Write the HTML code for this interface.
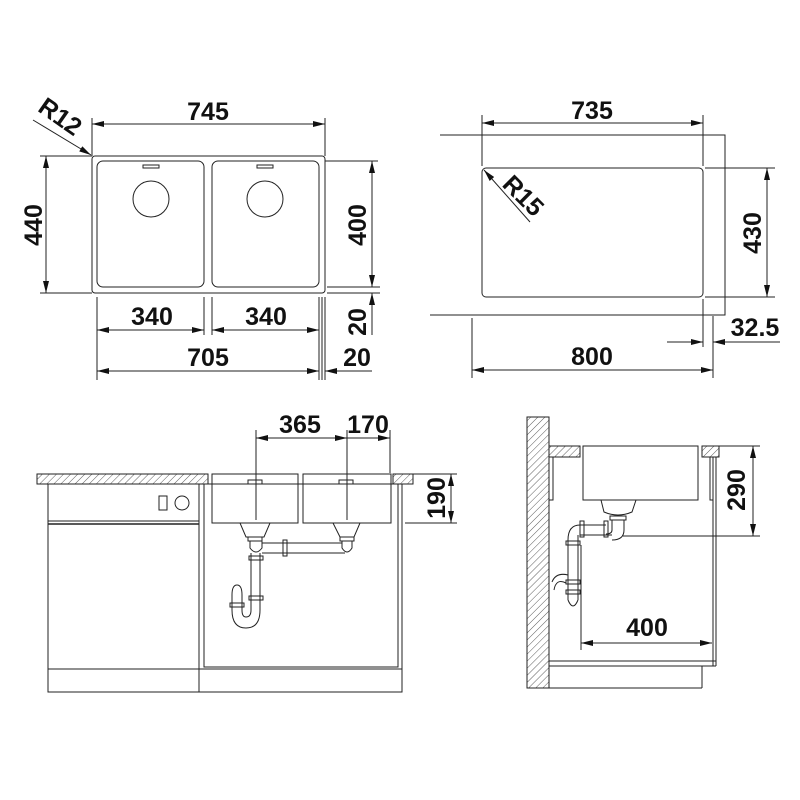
<!DOCTYPE html>
<html><head><meta charset="utf-8"><style>
html,body{margin:0;padding:0;background:#fff}
svg{display:block}
text{font-family:"Liberation Sans",sans-serif;font-weight:bold;font-size:25px;fill:#111;text-anchor:middle;dominant-baseline:central}
</style></head><body>
<svg width="800" height="800" viewBox="0 0 800 800" xmlns="http://www.w3.org/2000/svg">
<defs>
<marker id="a" viewBox="0 0 12 6" refX="12" refY="3" markerWidth="12" markerHeight="6" markerUnits="userSpaceOnUse" orient="auto-start-reverse"><path d="M0,0 L12,3 L0,6 Z" fill="#111"/></marker>
<pattern id="h" width="5" height="5" patternUnits="userSpaceOnUse" patternTransform="rotate(45)"><line x1="0" y1="0" x2="0" y2="5" stroke="#333" stroke-width="0.8"/></pattern>
</defs>
<g fill="none" stroke="#222" stroke-width="1">
<!-- TOP LEFT -->
<rect x="92" y="156" width="233" height="137" rx="3"/>
<rect x="97" y="161" width="107" height="126" rx="6"/>
<rect x="212" y="161" width="107" height="126" rx="6"/>
<circle cx="151" cy="199" r="18"/><circle cx="265" cy="199" r="18"/>
<rect x="143" y="165" width="16" height="3"/><rect x="257" y="165" width="16" height="3"/>
<line x1="92" y1="124" x2="325" y2="124" marker-start="url(#a)" marker-end="url(#a)"/>
<line x1="92" y1="118" x2="92" y2="156"/><line x1="325" y1="118" x2="325" y2="156"/>
<line x1="33" y1="120" x2="91" y2="155" marker-end="url(#a)"/>
<line x1="40" y1="156" x2="92" y2="156"/><line x1="40" y1="293" x2="92" y2="293"/>
<line x1="46" y1="156" x2="46" y2="293" marker-start="url(#a)" marker-end="url(#a)"/>
<line x1="325" y1="161" x2="378" y2="161"/><line x1="327" y1="287" x2="380" y2="287"/><line x1="327" y1="293" x2="380" y2="293"/>
<line x1="372" y1="161" x2="372" y2="287" marker-start="url(#a)" marker-end="url(#a)"/>
<line x1="372" y1="293" x2="372" y2="335" marker-start="url(#a)"/>
<line x1="97" y1="297" x2="97" y2="380"/><line x1="204" y1="297" x2="204" y2="335"/><line x1="212" y1="297" x2="212" y2="335"/>
<line x1="319" y1="297" x2="319" y2="380"/><line x1="322" y1="297" x2="322" y2="380"/><line x1="325" y1="297" x2="325" y2="380"/>
<line x1="97" y1="330" x2="204" y2="330" marker-start="url(#a)" marker-end="url(#a)"/>
<line x1="212" y1="330" x2="319" y2="330" marker-start="url(#a)" marker-end="url(#a)"/>
<line x1="97" y1="371" x2="319" y2="371" marker-start="url(#a)" marker-end="url(#a)"/>
<line x1="372" y1="371" x2="325" y2="371" marker-end="url(#a)"/>
<!-- TOP RIGHT -->
<polyline points="440,135 725,135 725,315 430,315"/>
<rect x="482" y="168" width="221" height="129" rx="4"/>
<line x1="482" y1="115" x2="482" y2="166"/><line x1="703" y1="115" x2="703" y2="166"/>
<line x1="482" y1="123" x2="703" y2="123" marker-start="url(#a)" marker-end="url(#a)"/>
<line x1="530" y1="222" x2="484" y2="170" marker-end="url(#a)"/>
<line x1="705" y1="168" x2="775" y2="168"/><line x1="705" y1="297" x2="775" y2="297"/>
<line x1="767" y1="168" x2="767" y2="297" marker-start="url(#a)" marker-end="url(#a)"/>
<line x1="703" y1="299" x2="703" y2="347"/><line x1="713" y1="316" x2="713" y2="378"/><line x1="472" y1="318" x2="472" y2="378"/>
<line x1="472" y1="370" x2="713" y2="370" marker-start="url(#a)" marker-end="url(#a)"/>
<line x1="667" y1="342" x2="703" y2="342" marker-end="url(#a)"/>
<line x1="780" y1="342" x2="713" y2="342" marker-end="url(#a)"/>
<!-- BOTTOM LEFT -->
<rect x="37" y="474" width="171" height="10" fill="url(#h)"/>
<rect x="393" y="474" width="20" height="10" fill="url(#h)"/>
<rect x="48" y="484" width="151" height="208"/>
<line x1="48" y1="521" x2="199" y2="521"/><line x1="48" y1="524" x2="199" y2="524" stroke-width="1.5"/>
<line x1="48" y1="669" x2="402" y2="669"/>
<rect x="159" y="496" width="8" height="14"/><circle cx="182" cy="503" r="7"/>
<rect x="199" y="484" width="203" height="208"/>
<polyline points="204,484 204,667 398,667 398,484"/>
<rect x="212" y="474" width="86" height="49"/><rect x="303" y="474" width="88" height="49"/>
<line x1="298" y1="474" x2="298" y2="490"/>
<rect x="248" y="480" width="14" height="4"/><rect x="339" y="480" width="14" height="4"/>
<line x1="256" y1="430" x2="256" y2="520"/><line x1="347" y1="430" x2="347" y2="520"/><line x1="390" y1="430" x2="390" y2="473"/>
<line x1="256" y1="438" x2="347" y2="438" marker-start="url(#a)" marker-end="url(#a)"/>
<line x1="347" y1="438" x2="390" y2="438" marker-end="url(#a)"/>
<line x1="413" y1="474" x2="457" y2="474"/><line x1="405" y1="523" x2="457" y2="523"/>
<line x1="451" y1="474" x2="451" y2="523" marker-start="url(#a)" marker-end="url(#a)"/>
<!-- pipes -->
<path d="M240,523 L270,523 L264,537 L246,537 Z"/><path d="M333,523 L360,523 L354,537 L340,537 Z"/>
<rect x="248" y="537" width="14" height="4"/><rect x="340" y="537" width="14" height="4"/>
<path d="M250,541 L250,548 Q256,556 262,548 L262,541"/>
<path d="M342,541 L342,548 Q347,556 352,548 L352,541"/>
<line x1="262" y1="543" x2="342" y2="543"/><line x1="262" y1="553" x2="345" y2="553"/>
<rect x="283" y="540" width="4" height="16"/>
<rect x="249" y="556" width="14" height="4"/><rect x="249" y="596" width="14" height="4"/>
<line x1="251" y1="553" x2="251" y2="610"/><line x1="260" y1="553" x2="260" y2="610"/>
<path d="M260,610 Q260,628 246,628 Q232,628 232,610 L232,595"/>
<path d="M251,610 Q251,617 246,617 Q242,617 242,610 L242,595"/>
<path d="M232,595 Q232,585 237,585 Q242,585 242,595"/>
<rect x="230" y="603" width="14" height="4"/>
<!-- BOTTOM RIGHT -->
<rect x="527" y="417" width="22" height="271" fill="url(#h)"/>
<rect x="549" y="446" width="31" height="11" fill="url(#h)"/>
<rect x="702" y="446" width="17" height="11" fill="url(#h)"/>
<rect x="583" y="446" width="115" height="54"/>
<polyline points="553,457 553,500 549,500"/>
<polyline points="710,457 710,500 713,500"/>
<line x1="713" y1="457" x2="713" y2="666"/><line x1="716" y1="457" x2="716" y2="666"/>
<line x1="549" y1="661" x2="716" y2="661"/><line x1="549" y1="666" x2="716" y2="666"/>
<line x1="702" y1="666" x2="702" y2="688"/><line x1="549" y1="688" x2="702" y2="688"/>
<path d="M601,500 L636,500 L632,512 Q618,518 604,512 Z"/>
<rect x="610" y="516" width="16" height="4"/>
<path d="M612,520 L612,530 Q612,534 606,534 M624,520 L624,530 Q624,540 612,540"/>
<line x1="580" y1="525" x2="606" y2="525"/><line x1="580" y1="535" x2="612" y2="535"/>
<rect x="580" y="521" width="4" height="16"/><rect x="604" y="521" width="4" height="16"/>
<path d="M580,525 Q568,525 568,540 L568,600 M578,535 L578,600"/>
<rect x="566" y="541" width="14" height="4"/>
<rect x="566" y="580" width="14" height="4"/><rect x="566" y="590" width="14" height="4"/>
<path d="M568,600 Q573,612 578,600"/>
<path d="M566,583 Q556,578 554,590 M568,575 Q556,572 552,582"/>
<line x1="719" y1="446" x2="760" y2="446"/><line x1="623" y1="536" x2="760" y2="536"/>
<line x1="753" y1="446" x2="753" y2="536" marker-start="url(#a)" marker-end="url(#a)"/>
<line x1="581" y1="545" x2="581" y2="650"/>
<line x1="581" y1="643" x2="712" y2="643" marker-start="url(#a)" marker-end="url(#a)"/>
</g>
<text x="208" y="112">745</text>
<text x="0" y="0" transform="translate(60,117) rotate(35)" font-size="23">R12</text>
<text x="0" y="0" transform="translate(34,225) rotate(-90)">440</text>
<text x="0" y="0" transform="translate(358,225) rotate(-90)">400</text>
<text x="0" y="0" transform="translate(358,322) rotate(-90)">20</text>
<text x="152" y="317">340</text><text x="266" y="317">340</text>
<text x="208" y="358">705</text><text x="357" y="358">20</text>
<text x="592" y="111">735</text>
<text x="0" y="0" transform="translate(523,196) rotate(45)" font-size="23">R15</text>
<text x="0" y="0" transform="translate(753,233) rotate(-90)">430</text>
<text x="592" y="357">800</text>
<text x="755" y="328" font-size="23">32.5</text>
<text x="300" y="425">365</text><text x="368" y="425">170</text>
<text x="0" y="0" transform="translate(437,498) rotate(-90)">190</text>
<text x="0" y="0" transform="translate(737,490) rotate(-90)">290</text>
<text x="647" y="628">400</text>
</svg>
</body></html>
